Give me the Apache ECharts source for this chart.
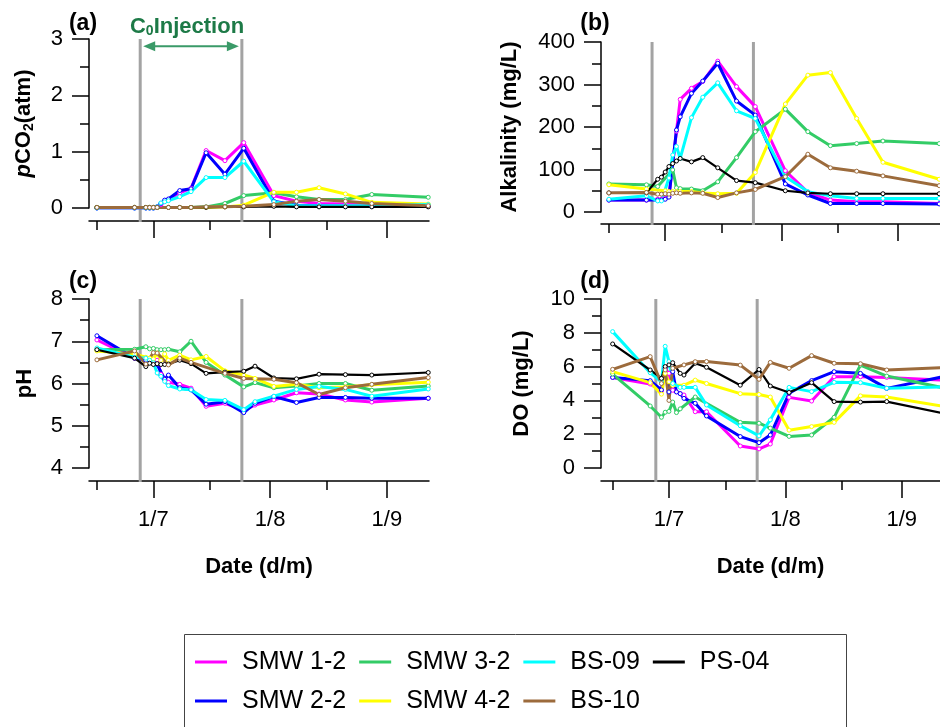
<!DOCTYPE html>
<html>
<head>
<meta charset="utf-8">
<script src="https://cdn.jsdelivr.net/npm/echarts@6/dist/echarts.min.js"></script>
<style>
  html, body { margin: 0; padding: 0; background: #fff; }
  #chart { width: 940px; height: 727px; }
</style>
</head>
<body>
<div id="chart"></div>
<script>
// sampling days, counted from 1 July
const days = [-15, -5, -2, -1, 0, 1, 2, 3, 4, 7, 10, 14, 19, 24, 27, 32, 38, 44, 51, 58, 73];

const stations = ['SMW 1-2', 'SMW 2-2', 'SMW 3-2', 'SMW 4-2', 'BS-09', 'BS-10', 'PS-04'];
const legendOrder = ['SMW 1-2', 'SMW 3-2', 'BS-09', 'PS-04', 'SMW 2-2', 'SMW 4-2', 'BS-10'];

// x ticks (days from 1 July)
const majorDays = [0, 31, 62];
const xTickLabels = ['1/7', '1/8', '1/9'];
const minorDays = [-15, 15, 46];

// injection period (days)
const injStart = -3.5;
const injEnd = 23.5;

// (a) pCO2 (atm)
const pco2Smw12 = [0, 0, 0, 0, 0, 0.02, 0.06, 0.12, 0.15, 0.27, 0.35, 1.02, 0.84, 1.16, null, 0.22, 0.12, 0.08, 0.07, 0.05, 0.04];
const pco2Smw22 = [0, 0, 0, 0, 0, 0.02, 0.08, 0.14, 0.16, 0.31, 0.34, 0.98, 0.6, 1.06, null, 0.12, 0.05, 0.04, 0.03, 0.03, 0.03];
const pco2Smw32 = [0.01, 0.01, 0.01, 0.01, 0.01, 0.01, null, null, 0.01, 0.01, 0.01, 0.02, 0.08, 0.22, null, 0.27, 0.2, 0.15, 0.15, 0.24, 0.19];
const pco2Smw42 = [0.01, 0.01, 0.01, 0.01, 0.01, 0.01, null, null, 0.01, 0.01, 0.01, 0.01, 0.02, 0.05, null, 0.28, 0.28, 0.36, 0.25, 0.1, 0.07];
const pco2Bs09 = [0, 0, 0, 0, 0, 0.02, 0.09, 0.11, 0.13, 0.2, 0.29, 0.54, 0.54, 0.83, null, 0.11, 0.04, 0.04, 0.04, 0.04, 0.06];
const pco2Bs10 = [0.01, 0.01, 0.01, 0.01, 0.01, 0.01, null, null, 0.01, 0.01, 0.01, 0.02, 0.02, 0.03, null, 0.06, 0.12, 0.15, 0.12, 0.08, 0.04];
const pco2Ps04 = [0.01, 0.01, 0.01, 0.01, 0.01, 0.01, null, null, 0.01, 0.01, 0.01, 0.01, 0.02, 0.02, null, 0.03, 0.02, 0.02, 0.02, 0.02, 0.02];

// (b) Alkalinity (mg/L)
const alkSmw12 = [28, 28, 30, 30, 32, 36, null, 190, 265, 291, 307, 355, 295, 248, null, 97, 46, 28, 24, 24, 20];
const alkSmw22 = [28, 28, 28, 28, 30, 35, null, 193, 224, 279, 308, 350, 261, 228, null, 66, 40, 20, 20, 20, 19];
const alkSmw32 = [66, 64, 60, null, null, null, 99, 57, 55, 54, 50, 71, 128, 189, null, 242, 189, 156, 161, 167, 161];
const alkSmw42 = [64, 54, null, null, 50, 48, 48, 48, 48, 48, 45, 43, 44, 93, null, 254, 322, 328, 220, 117, 77];
const alkBs09 = [30, 38, 26, 26, null, 80, 134, 154, 126, 222, 270, 304, 238, 220, null, 83, 48, 38, 32, 32, 32];
const alkBs10 = [45, 46, 42, 42, 43, 42, 44, 45, 44, 45, 44, 34, 45, 53, null, 83, 136, 104, 96, 85, 62];
const alkPs04 = [45, 45, 77, 82, 94, 107, 114, 120, 126, 118, 128, 104, 74, 69, null, 50, 45, 43, 43, 43, 43];

// (c) pH
const phSmw12 = [7.03, 6.6, 6.6, 6.55, 6.55, 6.55, 6.22, 6.1, 6.03, 5.98, 5.89, 5.46, 5.53, 5.37, 5.49, 5.61, 5.78, 5.75, 5.61, 5.56, 5.65];
const phSmw22 = [7.13, 6.6, 6.55, 6.52, 6.5, 6.45, null, 6.1, 6.2, 5.9, 5.85, 5.51, 5.57, 5.31, 5.53, 5.69, 5.55, 5.67, 5.67, 5.65, 5.65];
const phSmw32 = [6.8, 6.81, 6.87, 6.82, 6.83, 6.8, 6.8, 6.8, 6.81, 6.75, 7.0, 6.5, 6.2, 5.92, 6.02, 5.9, 5.94, 6.0, 6.0, 5.84, 5.94];
const phSmw42 = [6.77, 6.7, 6.62, 6.6, 6.58, 6.72, 6.55, 6.7, 6.55, 6.67, 6.56, 6.64, 6.3, 6.2, 6.12, 5.93, 5.98, 5.9, 5.92, 5.97, 6.03];
const phBs09 = [6.84, 6.62, 6.6, 6.55, 6.49, 6.25, 6.17, 6.05, 5.95, 5.87, 5.85, 5.62, 5.6, 5.38, 5.57, 5.7, 5.86, 5.93, 5.86, 5.7, 5.87];
const phBs10 = [6.56, 6.77, 6.46, null, 6.73, 6.72, null, null, 6.44, 6.6, 6.5, null, 6.24, 6.12, null, 6.1, 6.02, 5.74, 5.9, 5.98, 6.14];
const phPs04 = [6.8, 6.6, 6.4, 6.48, 6.45, 6.47, 6.45, 6.45, 6.46, 6.55, 6.47, 6.24, 6.27, 6.29, 6.41, 6.13, 6.11, 6.22, 6.21, 6.2, 6.26];

// (d) DO (mg/L)
const doSmw12 = [5.36, 4.97, 4.56, 5.9, 5.6, 4.6, 4.5, 4.4, 4.32, 3.33, 3.33, null, 1.3, 1.13, 1.42, 4.18, 3.96, 5.4, 5.4, 5.36, 5.2];
const doSmw22 = [5.36, 5.17, 4.62, 5.9, 4.5, 5.7, 4.5, 4.4, 4.12, 3.83, 3.08, null, 1.86, 1.5, 1.95, 4.42, 5.17, 5.7, 5.6, 4.71, 5.4];
const doSmw32 = [5.56, 3.67, 3.0, 3.3, 3.35, 3.9, 3.28, 3.5, null, 4.2, null, null, 2.7, 2.65, 2.36, 1.87, 1.95, 3.0, 6.09, 5.44, 4.75];
const doSmw42 = [5.7, 5.05, 4.37, 5.6, 5.1, 4.9, null, null, 4.9, 5.2, 5.0, null, 4.4, 4.35, 4.2, 2.24, 2.45, 2.7, 4.27, 4.2, 3.65];
const doBs09 = [8.07, 5.64, 5.1, 7.2, 6.3, 5.0, null, 4.77, 4.77, 4.77, 3.73, null, 2.5, 1.9, 2.85, 4.77, 4.52, 5.07, 5.05, 4.72, 4.8];
const doBs10 = [5.84, 6.59, 5.0, 5.8, 4.0, 5.9, null, null, 6.1, 6.29, 6.3, null, 6.09, 5.25, 6.25, 5.9, 6.65, 6.2, 6.17, 5.8, 5.94];
const doPs04 = [7.34, 5.8, 5.3, 6.0, 6.1, 6.23, null, 5.6, 5.5, 6.2, 5.96, null, 4.9, 5.83, 4.85, 4.47, 5.05, 3.93, 3.9, 3.93, 3.24];

const panels = [
  [pco2Smw12, pco2Smw22, pco2Smw32, pco2Smw42, pco2Bs09, pco2Bs10, pco2Ps04],
  [alkSmw12, alkSmw22, alkSmw32, alkSmw42, alkBs09, alkBs10, alkPs04],
  [phSmw12, phSmw22, phSmw32, phSmw42, phBs09, phBs10, phPs04],
  [doSmw12, doSmw22, doSmw32, doSmw42, doBs09, doBs10, doPs04]
];

const colors = ['#ff00ff', '#0000ff', '#33cc66', '#ffff00', '#00ffff', '#9c6b3c', '#000000'];
const drawOrder = [0, 1, 2, 3, 4, 6, 5];

const FONT = '"Liberation Sans", Arial, sans-serif';
const axisColor = '#000';

// panel layout
const grids = [
  { left: 89, top: 39, width: 340, height: 169 },
  { left: 601, top: 42, width: 340, height: 170 },
  { left: 89, top: 299, width: 340, height: 169 },
  { left: 601, top: 299, width: 340, height: 169 }
];
const xRange = [[-17.1, 73.2], [-17.1, 73.2], [-17.1, 73.2], [-18.1, 72.2]];
const yRange = [[0, 3, 1], [0, 400, 100], [4, 8, 1], [0, 10, 2]];
const xOffset = [13, 12, 13, 13];
const yNames = ['{i|p}CO{s|2}(atm)', 'Alkalinity (mg/L)', 'pH', 'DO (mg/L)'];
const yNameGap = [53, 80, 53, 68];

const chart = echarts.init(document.getElementById('chart'));

const xAxes = [];
const yAxes = [];
grids.forEach((g, p) => {
  const bottomRow = p >= 2;
  xAxes.push({
    type: 'value', gridIndex: p, min: xRange[p][0], max: xRange[p][1],
    position: 'bottom', offset: xOffset[p],
    axisLine: { show: true, onZero: false, lineStyle: { color: axisColor, width: 1.5 } },
    axisTick: { show: true, length: 17, customValues: majorDays, lineStyle: { color: axisColor, width: 1.5 } },
    axisLabel: {
      show: bottomRow, customValues: majorDays, margin: 28,
      fontSize: 22, color: '#000', fontFamily: FONT,
      formatter: v => xTickLabels[majorDays.indexOf(v)]
    },
    splitLine: { show: false },
    name: bottomRow ? 'Date (d/m)' : '',
    nameLocation: 'middle', nameGap: 75,
    nameTextStyle: { fontSize: 22, fontWeight: 'bold', color: '#000', fontFamily: FONT }
  });
  xAxes.push({
    type: 'value', gridIndex: p, min: xRange[p][0], max: xRange[p][1],
    position: 'bottom', offset: xOffset[p],
    axisLine: { show: false, onZero: false },
    axisTick: { show: true, length: 9, customValues: minorDays, lineStyle: { color: axisColor, width: 1.5 } },
    axisLabel: { show: false },
    splitLine: { show: false }
  });
  yAxes.push({
    type: 'value', gridIndex: p, min: yRange[p][0], max: yRange[p][1], interval: yRange[p][2],
    axisLine: { show: true, onZero: false, lineStyle: { color: axisColor, width: 1.5 } },
    axisTick: { show: true, length: 17, lineStyle: { color: axisColor, width: 1.5 } },
    minorTick: { show: true, splitNumber: 2, length: 9, lineStyle: { color: axisColor, width: 1.5 } },
    splitLine: { show: false },
    axisLabel: { fontSize: 22, color: '#000', fontFamily: FONT, margin: 26 },
    name: yNames[p], nameLocation: 'middle', nameGap: yNameGap[p], nameRotate: 90,
    nameTextStyle: {
      fontSize: 22, fontWeight: 'bold', color: '#000', fontFamily: FONT,
      rich: {
        i: { fontSize: 22, fontWeight: 'bold', fontStyle: 'italic', fontFamily: FONT, color: '#000' },
        s: { fontSize: 14, fontWeight: 'bold', fontFamily: FONT, color: '#000', verticalAlign: 'bottom', padding: [10, 0, 0, 0] }
      }
    }
  });
});

const series = [];
panels.forEach((vals, p) => {
  drawOrder.forEach(k => {
    const data = days.map((d, i) => [d, vals[k][i]]).filter(pt => pt[1] != null);
    series.push({
      name: stations[k], type: 'line',
      xAxisIndex: 2 * p, yAxisIndex: p,
      data: data,
      symbol: 'circle', symbolSize: 4, showSymbol: true,
      lineStyle: { color: colors[k], width: k === 6 ? 2.2 : 3 },
      itemStyle: { color: '#fff', borderColor: colors[k], borderWidth: 1 },
      emphasis: { disabled: true },
      silent: true
    });
  });
});

const option = {
  backgroundColor: '#fff',
  animation: false,
  grid: grids,
  xAxis: xAxes,
  yAxis: yAxes,
  legend: {
    data: legendOrder.map(n => ({
      name: n, icon: 'rect',
      itemStyle: { color: colors[stations.indexOf(n)], borderWidth: 0 }
    })),
    left: 195, top: 649, width: 600, padding: 0,
    itemWidth: 32, itemHeight: 3, itemGap: 13,
    textStyle: { fontSize: 25, color: '#000', fontFamily: FONT, lineHeight: 26, padding: [0, 0, 0, 10] }
  },
  series: series
};
chart.setOption(option);

// reference lines, labels and annotations placed from axis coordinates
const graphics = [];
const firstSeries = p => p * 7;
for (let p = 0; p < 4; p++) {
  [injStart, injEnd].forEach(d => {
    const top = chart.convertToPixel({ seriesIndex: firstSeries(p) }, [d, yRange[p][1]]);
    const bot = chart.convertToPixel({ seriesIndex: firstSeries(p) }, [d, yRange[p][0]]);
    graphics.push({
      type: 'line', z: 1,
      shape: { x1: top[0], y1: top[1], x2: bot[0], y2: bot[1] + xOffset[p] + 1 },
      style: { stroke: '#a3a3a3', lineWidth: 3 }
    });
  });
}

// panel letters
const letters = ['(a)', '(b)', '(c)', '(d)'];
grids.forEach((g, p) => {
  graphics.push({
    type: 'text', z: 10,
    x: g.left - 6, y: p < 2 ? 24 : 282,
    style: { text: letters[p], fontSize: 23, fontWeight: 'bold', fill: '#000', font: 'bold 23px ' + FONT, align: 'center', verticalAlign: 'middle' }
  });
});

// injection arrow in panel (a)
const a0 = chart.convertToPixel({ seriesIndex: 0 }, [injStart, 2.87]);
const a1 = chart.convertToPixel({ seriesIndex: 0 }, [injEnd, 2.87]);
const ax0 = a0[0] + 3, ax1 = a1[0] - 3, ay = a0[1];
const arrowColor = '#3a9a68';
graphics.push({ type: 'line', z: 10, shape: { x1: ax0 + 6, y1: ay, x2: ax1 - 6, y2: ay }, style: { stroke: arrowColor, lineWidth: 2 } });
graphics.push({ type: 'polygon', z: 10, shape: { points: [[ax0, ay], [ax0 + 12, ay - 5], [ax0 + 12, ay + 5]] }, style: { fill: arrowColor } });
graphics.push({ type: 'polygon', z: 10, shape: { points: [[ax1, ay], [ax1 - 12, ay - 5], [ax1 - 12, ay + 5]] }, style: { fill: arrowColor } });
graphics.push({
  type: 'text', z: 10,
  x: (ax0 + ax1) / 2 - 4, y: 27,
  style: {
    text: '{c|C}{s|0}{c|Injection}',
    align: 'center', verticalAlign: 'middle',
    rich: {
      c: { fontSize: 22, fontWeight: 'bold', fontFamily: FONT, fill: '#1d7a47' },
      s: { fontSize: 14, fontWeight: 'bold', fontFamily: FONT, fill: '#1d7a47', verticalAlign: 'bottom', padding: [8, 0, 0, 0] }
    }
  }
});

// legend frame
graphics.push({
  type: 'rect', z: 0,
  shape: { x: 184.5, y: 634.5, width: 662, height: 110 },
  style: { fill: 'none', stroke: '#444', lineWidth: 1 }
});

chart.setOption({ graphic: graphics });
</script>
</body>
</html>
